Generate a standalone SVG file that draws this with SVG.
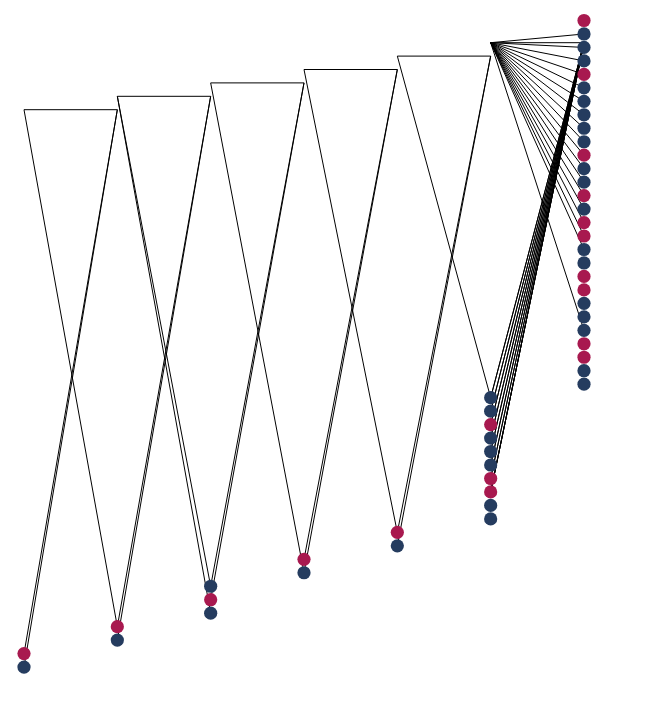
<svg xmlns="http://www.w3.org/2000/svg" width="665" height="709" viewBox="0 0 665 709">
<style>
.l line{stroke:#000;stroke-width:1;fill:none}
.r{fill:#a8194f}
.b{fill:#253c5f}
</style>
<rect width="665" height="709" fill="#fff"/>
<g id="connectors" class="l">
<!-- T1 -->
<line x1="24" y1="109.7" x2="117.33" y2="109.7"/>
<line x1="24" y1="109.7" x2="117.33" y2="626.65"/>
<line x1="117.33" y1="109.7" x2="24" y2="653.59"/>
<line x1="117.33" y1="109.7" x2="24" y2="667.06"/>
<!-- T2 -->
<line x1="117.33" y1="96.3" x2="210.67" y2="96.3"/>
<line x1="117.33" y1="96.3" x2="210.67" y2="586.24"/>
<line x1="117.33" y1="96.3" x2="210.67" y2="613.18"/>
<line x1="210.67" y1="96.3" x2="117.33" y2="626.65"/>
<line x1="210.67" y1="96.3" x2="117.33" y2="640.12"/>
<!-- T3 -->
<line x1="210.67" y1="82.9" x2="304" y2="82.9"/>
<line x1="210.67" y1="82.9" x2="304" y2="572.77"/>
<line x1="304" y1="82.9" x2="210.67" y2="586.24"/>
<line x1="304" y1="82.9" x2="210.67" y2="599.71"/>
<!-- T4 -->
<line x1="304" y1="69.5" x2="397.33" y2="69.5"/>
<line x1="304" y1="69.5" x2="397.33" y2="532.36"/>
<line x1="397.33" y1="69.5" x2="304" y2="559.3"/>
<line x1="397.33" y1="69.5" x2="304" y2="572.77"/>
<!-- T5 -->
<line x1="397.33" y1="56.1" x2="490.67" y2="56.1"/>
<line x1="397.33" y1="56.1" x2="490.67" y2="397.66"/>
<line x1="490.67" y1="56.1" x2="397.33" y2="532.36"/>
<line x1="490.67" y1="56.1" x2="397.33" y2="545.83"/>
<!-- T6 fan -->
<line x1="490.67" y1="42.7" x2="584" y2="42.7"/>
<line x1="490.67" y1="42.7" x2="584" y2="33.97"/>
<line x1="490.67" y1="42.7" x2="584" y2="47.44"/>
<line x1="490.67" y1="42.7" x2="584" y2="60.91"/>
<line x1="490.67" y1="42.7" x2="584" y2="74.38"/>
<line x1="490.67" y1="42.7" x2="584" y2="87.85"/>
<line x1="490.67" y1="42.7" x2="584" y2="101.32"/>
<line x1="490.67" y1="42.7" x2="584" y2="114.79"/>
<line x1="490.67" y1="42.7" x2="584" y2="128.26"/>
<line x1="490.67" y1="42.7" x2="584" y2="141.73"/>
<line x1="490.67" y1="42.7" x2="584" y2="155.2"/>
<line x1="490.67" y1="42.7" x2="584" y2="168.67"/>
<line x1="490.67" y1="42.7" x2="584" y2="182.14"/>
<line x1="490.67" y1="42.7" x2="584" y2="195.61"/>
<line x1="490.67" y1="42.7" x2="584" y2="209.08"/>
<line x1="490.67" y1="42.7" x2="584" y2="222.55"/>
<line x1="490.67" y1="42.7" x2="584" y2="236.02"/>
<line x1="490.67" y1="42.7" x2="584" y2="249.49"/>
<line x1="490.67" y1="42.7" x2="584" y2="330.31"/>
<!-- T6 bundle -->
<line x1="584" y1="42.7" x2="490.67" y2="397.66"/>
<line x1="584" y1="42.7" x2="490.67" y2="397.66"/>
<line x1="584" y1="42.7" x2="490.67" y2="411.13"/>
<line x1="584" y1="42.7" x2="490.67" y2="411.13"/>
<line x1="584" y1="42.7" x2="490.67" y2="424.6"/>
<line x1="584" y1="42.7" x2="490.67" y2="424.6"/>
<line x1="584" y1="42.7" x2="490.67" y2="438.07"/>
<line x1="584" y1="42.7" x2="490.67" y2="438.07"/>
<line x1="584" y1="42.7" x2="490.67" y2="451.54"/>
<line x1="584" y1="42.7" x2="490.67" y2="451.54"/>
<line x1="584" y1="42.7" x2="490.67" y2="465.01"/>
<line x1="584" y1="42.7" x2="490.67" y2="465.01"/>
<line x1="584" y1="42.7" x2="490.67" y2="478.48"/>
<line x1="584" y1="42.7" x2="490.67" y2="478.48"/>
<line x1="584" y1="42.7" x2="490.67" y2="491.95"/>
<line x1="584" y1="42.7" x2="490.67" y2="491.95"/>
<line x1="584" y1="42.7" x2="490.67" y2="491.95"/>
<line x1="584" y1="42.7" x2="490.67" y2="491.95"/>
</g>
<g id="col584">
<circle class="r" cx="584" cy="20.5" r="6.6"/>
<circle class="b" cx="584" cy="33.97" r="6.6"/>
<circle class="b" cx="584" cy="47.44" r="6.6"/>
<circle class="b" cx="584" cy="60.91" r="6.6"/>
<circle class="r" cx="584" cy="74.38" r="6.6"/>
<circle class="b" cx="584" cy="87.85" r="6.6"/>
<circle class="b" cx="584" cy="101.32" r="6.6"/>
<circle class="b" cx="584" cy="114.79" r="6.6"/>
<circle class="b" cx="584" cy="128.26" r="6.6"/>
<circle class="b" cx="584" cy="141.73" r="6.6"/>
<circle class="r" cx="584" cy="155.2" r="6.6"/>
<circle class="b" cx="584" cy="168.67" r="6.6"/>
<circle class="b" cx="584" cy="182.14" r="6.6"/>
<circle class="r" cx="584" cy="195.61" r="6.6"/>
<circle class="b" cx="584" cy="209.08" r="6.6"/>
<circle class="r" cx="584" cy="222.55" r="6.6"/>
<circle class="r" cx="584" cy="236.02" r="6.6"/>
<circle class="b" cx="584" cy="249.49" r="6.6"/>
<circle class="b" cx="584" cy="262.96" r="6.6"/>
<circle class="r" cx="584" cy="276.43" r="6.6"/>
<circle class="r" cx="584" cy="289.9" r="6.6"/>
<circle class="b" cx="584" cy="303.37" r="6.6"/>
<circle class="b" cx="584" cy="316.84" r="6.6"/>
<circle class="b" cx="584" cy="330.31" r="6.6"/>
<circle class="r" cx="584" cy="343.78" r="6.6"/>
<circle class="r" cx="584" cy="357.25" r="6.6"/>
<circle class="b" cx="584" cy="370.72" r="6.6"/>
<circle class="b" cx="584" cy="384.19" r="6.6"/>
</g>
<g id="col490">
<circle class="b" cx="490.67" cy="397.66" r="6.6"/>
<circle class="b" cx="490.67" cy="411.13" r="6.6"/>
<circle class="r" cx="490.67" cy="424.6" r="6.6"/>
<circle class="b" cx="490.67" cy="438.07" r="6.6"/>
<circle class="b" cx="490.67" cy="451.54" r="6.6"/>
<circle class="b" cx="490.67" cy="465.01" r="6.6"/>
<circle class="r" cx="490.67" cy="478.48" r="6.6"/>
<circle class="r" cx="490.67" cy="491.95" r="6.6"/>
<circle class="b" cx="490.67" cy="505.42" r="6.6"/>
<circle class="b" cx="490.67" cy="518.89" r="6.6"/>
</g>
<g id="col397">
<circle class="r" cx="397.33" cy="532.36" r="6.6"/>
<circle class="b" cx="397.33" cy="545.83" r="6.6"/>
</g>
<g id="col304">
<circle class="r" cx="304" cy="559.3" r="6.6"/>
<circle class="b" cx="304" cy="572.77" r="6.6"/>
</g>
<g id="col210">
<circle class="b" cx="210.67" cy="586.24" r="6.6"/>
<circle class="r" cx="210.67" cy="599.71" r="6.6"/>
<circle class="b" cx="210.67" cy="613.18" r="6.6"/>
</g>
<g id="col117">
<circle class="r" cx="117.33" cy="626.65" r="6.6"/>
<circle class="b" cx="117.33" cy="640.12" r="6.6"/>
</g>
<g id="col24">
<circle class="r" cx="24" cy="653.59" r="6.6"/>
<circle class="b" cx="24" cy="667.06" r="6.6"/>
</g>
</svg>
